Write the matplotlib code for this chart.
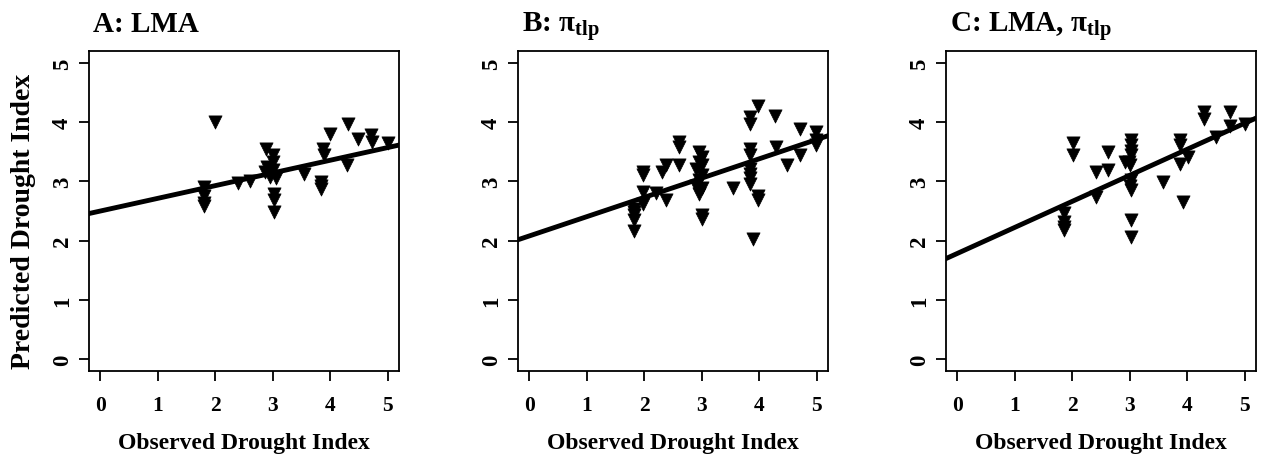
import matplotlib
matplotlib.use("Agg")
import matplotlib.pyplot as plt

plt.rcParams['font.family'] = ['Liberation Serif', 'DejaVu Serif']
plt.rcParams['font.weight'] = 'bold'
plt.rcParams['mathtext.fontset'] = 'custom'
plt.rcParams['mathtext.rm'] = 'Liberation Serif:bold'
plt.rcParams['mathtext.it'] = 'Liberation Serif:bold'
plt.rcParams['mathtext.bf'] = 'Liberation Serif:bold'
plt.rcParams['mathtext.default'] = 'rm'

# ---- data ----
ticks = [0, 1, 2, 3, 4, 5]

a_x = [2.0, 1.8, 1.8, 1.8, 1.8, 2.4, 2.6,
       2.88, 3.0, 3.0, 2.9, 2.87, 2.95, 3.06, 3.03, 3.03, 3.03, 2.95, 3.0,
       3.55, 3.84, 3.84, 3.84, 3.88, 3.9, 4.0, 4.29, 4.32, 4.49, 4.71, 4.73, 5.0]
a_y = [4.0, 2.9, 2.76, 2.64, 2.58, 2.97, 3.0,
       3.55, 3.44, 3.33, 3.24, 3.16, 3.07, 3.05, 2.79, 2.68, 2.48, 3.12, 3.2,
       3.13, 2.99, 2.92, 2.87, 3.55, 3.44, 3.8, 3.28, 3.96, 3.72, 3.78, 3.66, 3.65]
a_coef = (2.50, 0.214)

b_x = [1.82, 1.82, 1.82, 1.82, 1.82, 1.98, 1.98, 1.98, 1.98,
       2.21, 2.31, 2.38, 2.38, 2.6, 2.6, 2.6,
       2.95, 3.0, 2.95, 3.0, 2.9, 3.0, 2.95, 2.9, 3.0, 2.95, 3.0, 3.0,
       3.55, 3.84, 3.84, 3.84, 3.84, 3.84, 3.84, 3.84, 3.84,
       3.98, 3.98, 3.9, 3.98, 4.27, 4.3, 4.48, 4.71, 4.71, 4.99, 4.99, 4.99]
b_y = [2.54, 2.48, 2.43, 2.34, 2.17, 3.16, 3.10, 2.82, 2.62,
       2.81, 3.16, 3.27, 2.68, 3.66, 3.58, 3.27,
       3.49, 3.41, 3.33, 3.27, 3.21, 3.10, 3.02, 2.93, 2.88, 2.79, 2.43, 2.36,
       2.89, 4.08, 3.97, 3.55, 3.44, 3.21, 3.13, 3.05, 2.96,
       2.76, 2.68, 2.02, 4.28, 4.11, 3.58, 3.27, 3.89, 3.44, 3.83, 3.70, 3.61]
b_coef = (2.08, 0.325)

c_x = [1.85, 1.85, 1.85, 1.85, 2.02, 2.02, 2.41, 2.41, 2.63, 2.63,
       3.02, 3.02, 3.02, 3.02, 2.98, 3.0, 3.02, 3.0, 3.02, 3.02, 3.02, 2.91,
       3.58, 3.87, 3.87, 3.87, 4.01, 3.92, 4.3, 4.3, 4.5, 4.74, 4.74, 5.01]
c_y = [2.46, 2.31, 2.23, 2.18, 3.65, 3.44, 3.16, 2.74, 3.49, 3.19,
       3.69, 3.61, 3.52, 3.44, 3.33, 3.27, 3.02, 2.93, 2.85, 2.34, 2.06, 3.33,
       2.99, 3.69, 3.61, 3.30, 3.41, 2.65, 4.17, 4.06, 3.75, 4.17, 3.94, 3.97]
c_coef = (1.785, 0.439)

titles = ["A: LMA", r"B: $\pi_{tlp}$", r"C: LMA, $\pi_{tlp}$"]
xlabel = "Observed Drought Index"
ylabel = "Predicted Drought Index"

panels = [(a_x, a_y, a_coef), (b_x, b_y, b_coef), (c_x, c_y, c_coef)]

W, H = 1267, 460
fig = plt.figure(figsize=(W / 100, H / 100), dpi=100)
lefts = [89.0, 518.0, 946.0]
ax_w, ax_h = 310, 320
bottom = 460 - 372

for i, (xs, ys, coef) in enumerate(panels):
    ax = fig.add_axes([lefts[i] / W, bottom / H, ax_w / W, ax_h / H])
    ax.scatter(xs, ys, marker='v', s=90, color='black', edgecolors='black',
               linewidths=0.5, zorder=3)
    ax.axline((0, coef[0]), slope=coef[1], color='black', lw=3.5, zorder=4)
    ax.set_xlim(-0.2, 5.2)
    ax.set_ylim(-0.2, 5.2)
    ax.set_xticks(ticks)
    ax.set_yticks(ticks)
    ax.set_xticklabels([str(t) for t in ticks], fontsize=15.5, fontweight='bold')
    ax.set_yticklabels([str(t) for t in ticks], fontsize=16.5, fontweight='bold',
                       rotation=90, va='center')
    ax.tick_params(direction='out', length=7.5, width=1.3)
    ax.tick_params(axis='x', pad=10)
    ax.tick_params(axis='y', pad=4)
    for s in ax.spines.values():
        s.set_linewidth(1.3)
    ax.set_xlabel(xlabel, fontsize=17, fontweight='bold', labelpad=12)
    if i == 0:
        ax.set_ylabel(ylabel, fontsize=20, fontweight='bold')
        ax.yaxis.set_label_coords(-53 / ax_w, 0.47)
    ax.text(0.012, 1.0 + 20 / ax_h, titles[i], transform=ax.transAxes,
            ha='left', va='baseline', fontsize=21, fontweight='bold')

fig.savefig("out.png", dpi=100)
